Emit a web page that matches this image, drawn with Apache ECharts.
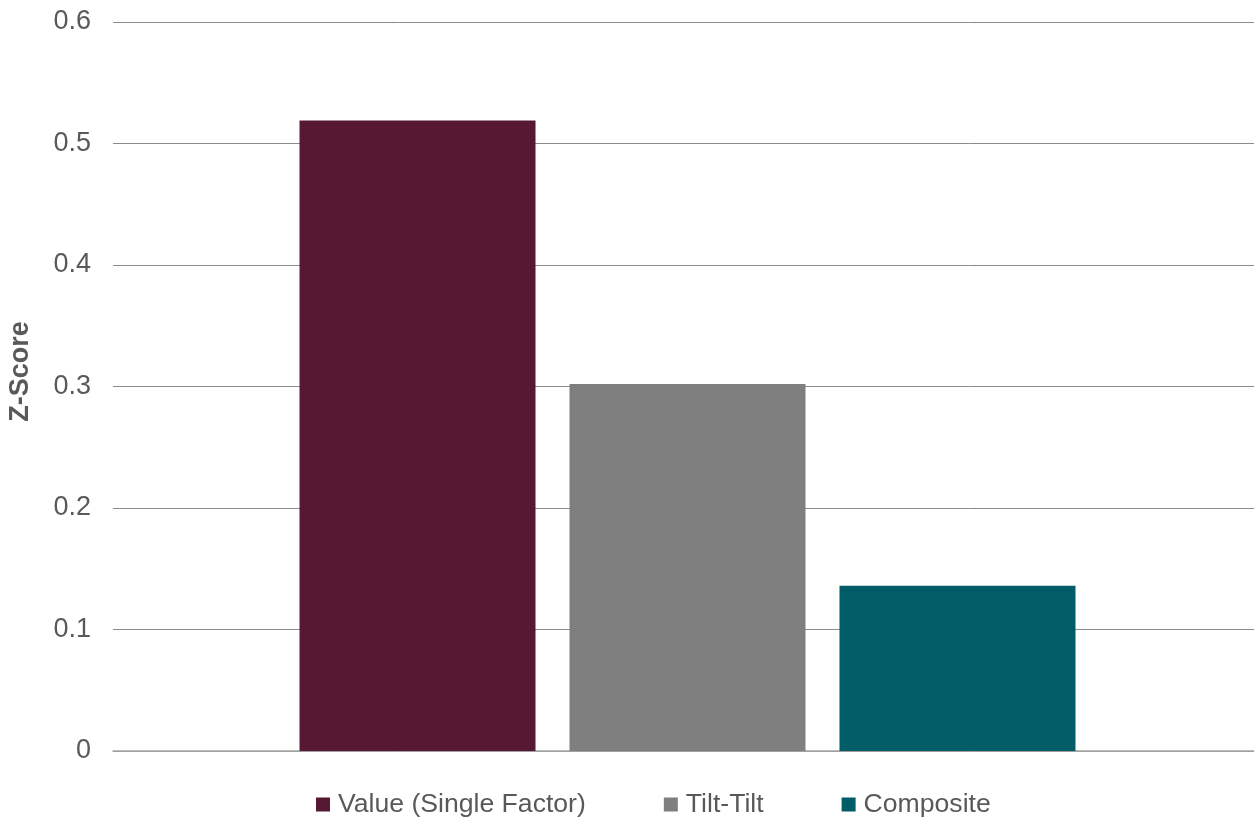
<!DOCTYPE html>
<html><head><meta charset="utf-8">
<script src="https://cdn.jsdelivr.net/npm/echarts@6/dist/echarts.min.js"></script>
<style>html,body{margin:0;padding:0;background:#fff}#c{width:1254px;height:819px}</style>
</head><body><div id="c"></div>
<script>
const categories = [''];
const seriesNames = ['Value (Single Factor)', 'Tilt-Tilt', 'Composite'];
const valueSingle = [0.519];
const tiltTilt = [0.302];
const composite = [0.136];
const yTicks = { min: 0, max: 0.6, interval: 0.1 };
const colors = ['#561832', '#7F7F7F', '#005C66'];

const chart = echarts.init(document.getElementById('c'), null, { renderer: 'canvas' });
const font = 'Liberation Sans, Arial, sans-serif';
const dataSets = [valueSingle, tiltTilt, composite];
chart.setOption({
  animation: false,
  color: colors,
  grid: { left: 113, right: -8, top: 22, bottom: 68, containLabel: false, outerBoundsMode: 'none' },
  legend: {
    top: 786, left: 311, itemWidth: 14, itemHeight: 14, itemGap: 78,
    icon: 'rect',
    textStyle: { fontFamily: font, fontSize: 26.6, color: '#595959', padding: [0,0,0,3] },
    data: seriesNames
  },
  xAxis: {
    type: 'category', data: categories,
    axisLine: { show: true, lineStyle: { color: '#A6A6A6', width: 1.5 } },
    axisTick: { show: false }, axisLabel: { show: false }
  },
  yAxis: {
    type: 'value', min: yTicks.min, max: yTicks.max, interval: yTicks.interval,
    name: 'Z-Score', nameLocation: 'middle', nameGap: 79,
    nameTextStyle: { fontFamily: font, fontSize: 27, fontWeight: 'bold', color: '#595959', padding: [0,0,0,30] },
    axisLine: { show: false }, axisTick: { show: false },
    axisLabel: { fontFamily: font, fontSize: 27, color: '#595959', margin: 22,
      formatter: v => (Math.round(v * 10) / 10).toString() },
    splitLine: { lineStyle: { color: '#8C8C8C', width: 1 } }
  },
  series: seriesNames.map((n, i) => ({
    name: n, type: 'bar', data: dataSets[i], barWidth: 236, barGap: '14.4%'
  }))
});
</script></body></html>
